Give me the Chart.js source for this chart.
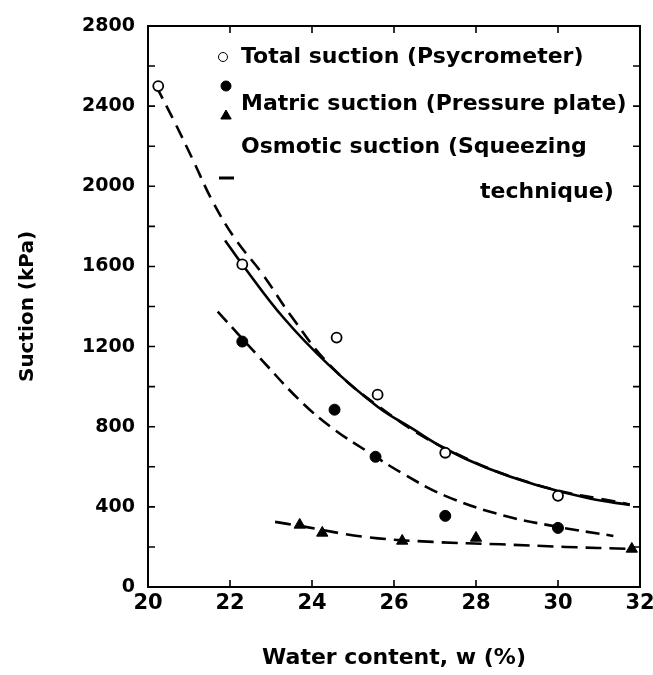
<!DOCTYPE html>
<html>
<head>
<meta charset="utf-8">
<script src="https://cdn.jsdelivr.net/npm/chart.js@4.4.1/dist/chart.umd.min.js"></script>
<style>
  html, body { margin: 0; padding: 0; background: #fff; }
</style>
</head>
<body>
<canvas id="suctionChart" width="653" height="675"></canvas>
<script>
// measured points: water content (%) vs suction (kPa)
const totalW = [20.25, 22.3, 24.6, 25.6, 27.25, 30.0];
const totalS = [2500, 1610, 1245, 960, 670, 455];

const matricW = [22.3, 24.55, 25.55, 27.25, 30.0];
const matricS = [1225, 885, 650, 355, 295];

const osmoticW = [23.7, 24.25, 26.2, 28.0, 31.8];
const osmoticS = [310, 270, 230, 245, 190];

// trend lines traced along each set
const fitTotalW = [21.88, 22.3, 23.3, 24.4, 25.6, 26.45, 27.25, 28.25, 29.45, 30.8, 31.75];
const fitTotalS = [1730, 1610, 1345, 1110, 900, 790, 690, 595, 510, 440, 410];

const fitUpperW = [20.2, 20.65, 21.1, 21.55, 22.1, 22.8, 23.5, 24.4, 25.6, 27.25, 29.45, 31.75];
const fitUpperS = [2500, 2320, 2130, 1935, 1745, 1560, 1350, 1115, 905, 692, 512, 412];

const fitMatricW = [21.7, 22.7, 23.75, 24.55, 25.4, 26.2, 27.25, 28.65, 30.0, 31.35];
const fitMatricS = [1375, 1150, 922, 785, 670, 568, 455, 358, 300, 255];

const fitOsmoticW = [23.1, 23.7, 25.3, 26.95, 28.6, 30.2, 31.75];
const fitOsmoticS = [325, 305, 250, 225, 213, 200, 190];

// axis ticks
const xTicks = [20, 22, 24, 26, 28, 30, 32];
const yTicks = [0, 400, 800, 1200, 1600, 2000, 2400, 2800];
const yMinor = [200, 400, 600, 800, 1000, 1200, 1400, 1600, 1800, 2000, 2200, 2400, 2600];

const legendRows = [
  "Total suction (Psycrometer)",
  "Matric suction (Pressure plate)",
  "Osmotic suction (Squeezing",
  "technique)",
];

const FONT = "'DejaVu Sans', Arial, sans-serif";

function pairs(xs, ys) {
  return xs.map((x, i) => ({ x: x, y: ys[i] }));
}

// box round the plot with inward ticks on all four sides
const frameTicks = {
  id: "frameTicks",
  beforeDatasetsDraw(chart) {
    const { ctx, chartArea: a, scales } = chart;
    ctx.save();
    ctx.strokeStyle = "#000";
    ctx.lineWidth = 2;
    ctx.strokeRect(a.left, a.top, a.right - a.left, a.bottom - a.top);
    ctx.lineWidth = 1.6;
    ctx.beginPath();
    xTicks.slice(1, -1).forEach((v) => {
      const px = scales.x.getPixelForValue(v);
      ctx.moveTo(px, a.bottom);
      ctx.lineTo(px, a.bottom - 7);
      ctx.moveTo(px, a.top);
      ctx.lineTo(px, a.top + 7);
    });
    yMinor.forEach((v) => {
      const py = scales.y.getPixelForValue(v);
      ctx.moveTo(a.left, py);
      ctx.lineTo(a.left + 7, py);
      ctx.moveTo(a.right, py);
      ctx.lineTo(a.right - 7, py);
    });
    ctx.stroke();
    ctx.restore();
  },
};

// legend written inside the plot, top left
const legendBox = {
  id: "legendBox",
  afterDatasetsDraw(chart) {
    const { ctx } = chart;
    ctx.save();
    ctx.fillStyle = "#000";
    ctx.font = "bold 22px " + FONT;
    ctx.textBaseline = "middle";
    ctx.textAlign = "left";
    ctx.fillText(legendRows[0], 241, 57);
    ctx.fillText(legendRows[1], 241, 104);
    ctx.fillText(legendRows[2], 241, 147);
    ctx.fillText(legendRows[3], 480, 192);

    ctx.strokeStyle = "#000";
    ctx.fillStyle = "#fff";
    Chart.helpers.drawPoint(ctx, { pointStyle: "circle", radius: 4.5, borderWidth: 1.8 }, 223, 57);
    ctx.fillStyle = "#000";
    Chart.helpers.drawPoint(ctx, { pointStyle: "circle", radius: 5, borderWidth: 1 }, 226, 86);
    Chart.helpers.drawPoint(ctx, { pointStyle: "triangle", radius: 6, borderWidth: 1 }, 226, 116);

    ctx.lineWidth = 3;
    ctx.beginPath();
    ctx.moveTo(219, 178);
    ctx.lineTo(234, 178);
    ctx.stroke();
    ctx.restore();
  },
};

new Chart(document.getElementById("suctionChart"), {
  type: "scatter",
  data: {
    datasets: [
      {
        label: "Total suction (Psycrometer)",
        data: pairs(totalW, totalS),
        pointStyle: "circle",
        pointRadius: 5,
        pointBackgroundColor: "#fff",
        pointBorderColor: "#000",
        pointBorderWidth: 1.8,
      },
      {
        label: "Matric suction (Pressure plate)",
        data: pairs(matricW, matricS),
        pointStyle: "circle",
        pointRadius: 5.5,
        pointBackgroundColor: "#000",
        pointBorderColor: "#000",
      },
      {
        label: "Osmotic suction (Squeezing technique)",
        data: pairs(osmoticW, osmoticS),
        pointStyle: "triangle",
        pointRadius: 6.5,
        pointBackgroundColor: "#000",
        pointBorderColor: "#000",
      },
      {
        label: "Total fit",
        data: pairs(fitTotalW, fitTotalS),
        showLine: true,
        pointRadius: 0,
        borderColor: "#000",
        borderWidth: 2.6,
        tension: 0.4,
      },
      {
        label: "Upper fit",
        data: pairs(fitUpperW, fitUpperS),
        showLine: true,
        pointRadius: 0,
        borderColor: "#000",
        borderWidth: 2.6,
        borderDash: [14, 8],
        tension: 0.4,
      },
      {
        label: "Matric fit",
        data: pairs(fitMatricW, fitMatricS),
        showLine: true,
        pointRadius: 0,
        borderColor: "#000",
        borderWidth: 2.6,
        borderDash: [14, 7],
        tension: 0.4,
      },
      {
        label: "Osmotic fit",
        data: pairs(fitOsmoticW, fitOsmoticS),
        showLine: true,
        pointRadius: 0,
        borderColor: "#000",
        borderWidth: 2.6,
        borderDash: [16, 8],
        tension: 0.4,
      },
    ],
  },
  options: {
    responsive: false,
    animation: false,
    layout: { padding: { top: 26, right: 13, left: 0, bottom: 0 } },
    plugins: {
      legend: { display: false },
      tooltip: { enabled: false },
    },
    scales: {
      x: {
        type: "linear",
        min: 20,
        max: 32,
        afterBuildTicks(scale) {
          scale.ticks = xTicks.map((v) => ({ value: v }));
        },
        afterFit(scale) {
          scale.height = 88;
        },
        grid: { display: false },
        border: { display: false },
        ticks: {
          color: "#000",
          padding: -4,
          maxRotation: 0,
          font: { family: FONT, size: 21, weight: "bold" },
        },
        title: {
          display: true,
          text: "Water content, w (%)",
          color: "#000",
          padding: { top: 0, bottom: 4 },
          font: { family: FONT, size: 22, weight: "bold" },
        },
      },
      y: {
        min: 0,
        max: 2800,
        afterBuildTicks(scale) {
          scale.ticks = yTicks.map((v) => ({ value: v }));
        },
        afterFit(scale) {
          scale.width = 148;
        },
        grid: { display: false },
        border: { display: false },
        ticks: {
          color: "#000",
          padding: 5,
          font: { family: FONT, size: 19, weight: "bold" },
          callback: (v) => String(v),
        },
        title: {
          display: true,
          text: "Suction (kPa)",
          color: "#000",
          padding: { top: 16, bottom: 0 },
          font: { family: FONT, size: 20, weight: "bold" },
        },
      },
    },
  },
  plugins: [frameTicks, legendBox],
});
</script>
</body>
</html>
